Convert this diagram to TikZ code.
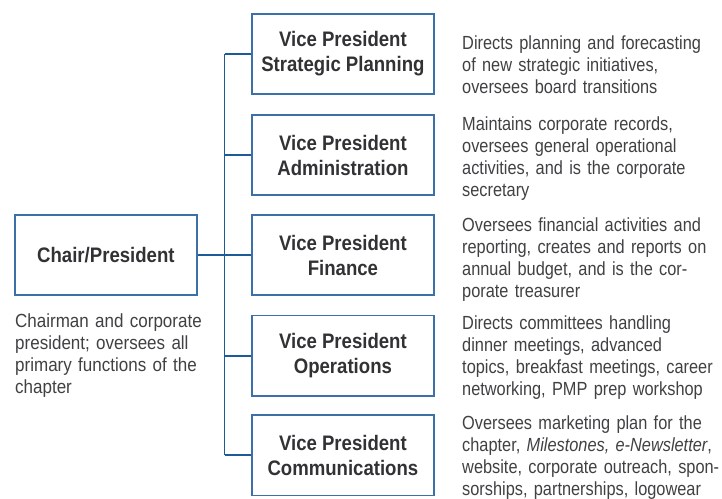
\documentclass[tikz,border=0pt]{standalone}
\usepackage{fontspec}
\setmainfont[FakeStretch=0.86]{Liberation Sans}
\newfontfamily\titlefont[FakeStretch=0.885]{Liberation Sans}
\newfontfamily\chairdescfont[FakeStretch=0.895]{Liberation Sans}
\definecolor{boxblue}{RGB}{62,112,168}
\definecolor{lineblue}{RGB}{28,90,152}
\definecolor{titlegray}{RGB}{50,50,53}
\definecolor{descgray}{RGB}{65,65,68}
\begin{document}
\begin{tikzpicture}[x=1pt,y=-1pt,
  vpbox/.style={draw=boxblue, line width=1.8pt, minimum width=182.5pt, minimum height=80.5pt,
    inner sep=0pt, align=center, text=titlegray,
    font=\titlefont\bfseries\fontsize{21}{25}\selectfont},
  desc/.style={anchor=base west, inner sep=0pt, text width=300pt, align=left,
    text=descgray, font=\fontsize{19}{22}\selectfont},
  conn/.style={draw=lineblue, line width=1.5pt}]
\useasboundingbox (0,0) rectangle (722,498);
\fill[white] (0,0) rectangle (722,498);

% boxes
\node[vpbox] (chair) at (105.9,255) {Chair/President};
\node[vpbox] (vp1) at (342.9,53.9) {Vice President\\Strategic Planning};
\node[vpbox] (vp2) at (342.9,155) {Vice President\\Administration};
\node[vpbox] (vp3) at (342.9,255) {Vice President\\Finance};
\node[vpbox] (vp4) at (342.9,355.8) {Vice President\\Operations};
\node[vpbox] (vp5) at (342.9,455.2) {Vice President\\Communications};

% connectors
\coordinate (bustop) at (224.6,53.9);
\coordinate (busbot) at (224.6,455.2);
\draw[conn] (bustop) -- (busbot);
\draw[conn] (chair.east) -- (vp3.west);
\foreach \n in {vp1,vp2,vp4,vp5}
  \draw[conn] (\n.west) -- (\n.west -| bustop);

% descriptions
\node[desc, text width=220pt, font=\chairdescfont\fontsize{19}{22}\selectfont] (dchair) at (15,327)
  {Chairman and corporate\\president; oversees all\\primary functions of the\\chapter};
\node[desc] (d1) at (462,49.5)
  {Directs planning and forecasting\\of new strategic initiatives,\\oversees board transitions};
\node[desc] (d2) at (462,130.5)
  {Maintains corporate records,\\oversees general operational\\activities, and is the corporate\\secretary};
\node[desc] (d3) at (462,231.5)
  {Oversees financial activities and\\reporting, creates and reports on\\annual budget, and is the cor-\\porate treasurer};
\node[desc] (d4) at (462,329.5)
  {Directs committees handling\\dinner meetings, advanced\\topics, breakfast meetings, career\\networking, PMP prep workshop};
\node[desc] (d5) at (462,429.5)
  {Oversees marketing plan for the\\chapter, \textit{Milestones, e-Newsletter},\\website, corporate outreach, spon-\\sorships, partnerships, logowear};
\end{tikzpicture}
\end{document}
